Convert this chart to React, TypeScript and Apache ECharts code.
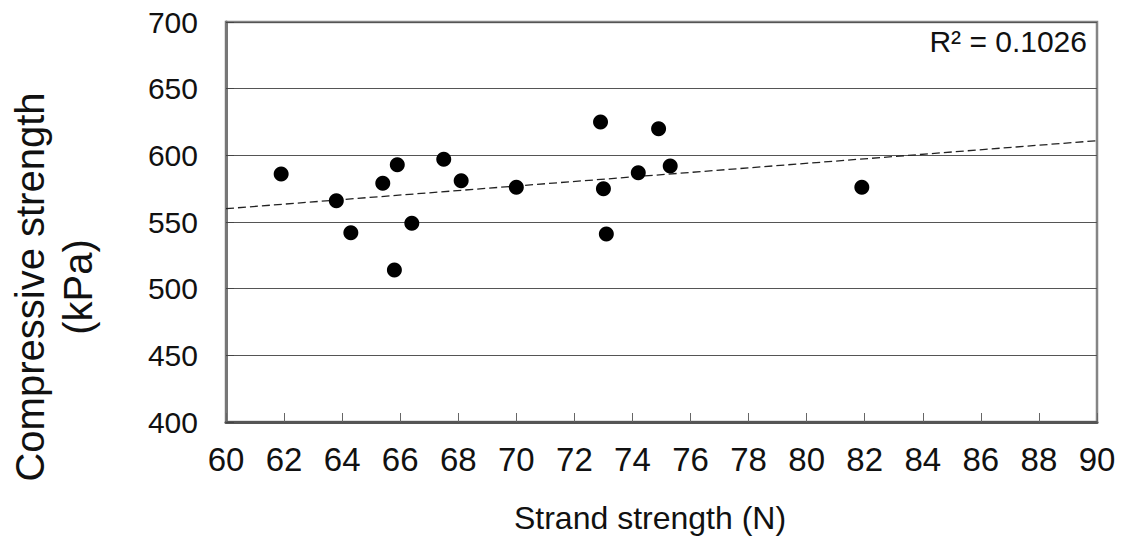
import React, { useEffect, useRef } from "react";
import * as echarts from "echarts";

const strand: number[] = [61.9, 63.8, 64.3, 65.4, 65.9, 65.8, 66.4, 67.5, 68.1, 70.0, 72.9, 73.0, 73.1, 74.2, 74.9, 75.3, 81.9];
const compressive: number[] = [586, 566, 542, 579, 593, 514, 549, 597, 581, 576, 625, 575, 541, 587, 620, 592, 576];
const trendX: number[] = [60, 90];
const trendY: number[] = [560, 611];
const r2Label = "R² = 0.1026";
const xTitle = "Strand strength (N)";
const yTitle = "Compressive strength\n(kPa)";

export default function App() {
  const ref = useRef<HTMLDivElement>(null);
  useEffect(() => {
    if (!ref.current) return;
    const chart = echarts.init(ref.current, undefined, { renderer: "svg" });
    const points = strand.map((x, i) => [x, compressive[i]]);
    const trend = trendX.map((x, i) => [x, trendY[i]]);
    chart.setOption({
      animation: false,
      backgroundColor: "#ffffff",
      textStyle: { fontFamily: "Liberation Sans, Arial, sans-serif" },
      grid: {
        left: 226,
        right: 27,
        top: 22,
        bottom: 114,
        show: true,
        borderColor: "#858585",
        borderWidth: 2.5,
      },
      xAxis: {
        type: "value",
        min: 60,
        max: 90,
        interval: 2,
        axisLine: { show: true, onZero: false, lineStyle: { color: "#555", width: 3 } },
        axisTick: { show: true, inside: true, length: 9, lineStyle: { color: "#666", width: 1 } },
        axisLabel: { fontSize: 33, color: "#111", margin: 21, fontFamily: "Liberation Sans, Arial, sans-serif" },
        splitLine: { show: false },
      },
      yAxis: {
        type: "value",
        min: 400,
        max: 700,
        interval: 50,
        axisLine: { show: true, onZero: false, lineStyle: { color: "#777", width: 3 } },
        axisTick: { show: true, inside: true, length: 8, lineStyle: { color: "#444", width: 1 } },
        axisLabel: { fontSize: 30, color: "#111", margin: 28, fontFamily: "Liberation Sans, Arial, sans-serif" },
        splitLine: { show: true, lineStyle: { color: "#555", width: 1.2 } },
      },
      graphic: [
        {
          type: "text",
          x: 54,
          y: 287,
          rotation: Math.PI / 2,
          style: {
            text: yTitle,
            font: "40px 'Liberation Sans', Arial, sans-serif",
            fill: "#111",
            align: "center",
            verticalAlign: "middle",
            textAlign: "center",
            textVerticalAlign: "middle",
            lineHeight: 48,
          },
        },
        {
          type: "text",
          x: 650,
          y: 518,
          style: {
            text: xTitle,
            font: "32px 'Liberation Sans', Arial, sans-serif",
            fill: "#111",
            align: "center",
            verticalAlign: "middle",
            textAlign: "center",
            textVerticalAlign: "middle",
          },
        },
        {
          type: "text",
          x: 1087,
          y: 41,
          style: {
            text: r2Label,
            font: "30px 'Liberation Sans', Arial, sans-serif",
            fill: "#111",
            align: "right",
            verticalAlign: "middle",
            textAlign: "right",
            textVerticalAlign: "middle",
          },
        },
      ],
      series: [
        {
          type: "line",
          data: trend,
          symbol: "none",
          lineStyle: { color: "#222", width: 1.3, type: [8, 4] },
          z: 1,
        },
        {
          type: "scatter",
          data: points,
          symbol: "circle",
          symbolSize: 15,
          itemStyle: { color: "#000", opacity: 1 },
          z: 2,
        },
      ],
    });
    return () => chart.dispose();
  }, []);
  return (
    <div
      ref={ref}
      style={{ position: "fixed", left: 0, top: 0, width: 1124, height: 536, background: "#fff" }}
    />
  );
}
